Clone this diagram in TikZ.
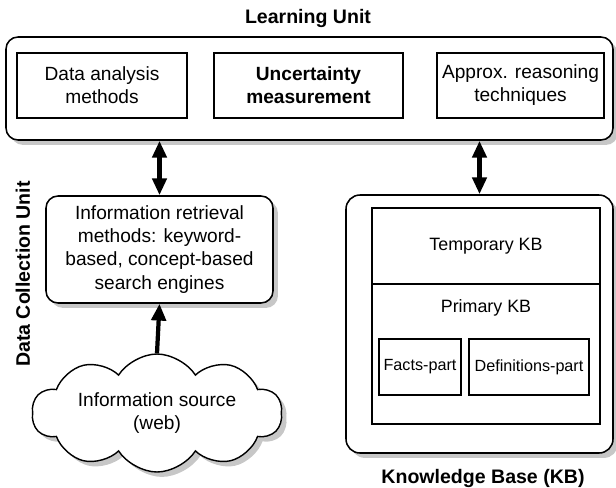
\documentclass[tikz,border=0pt]{standalone}
\usepackage{fontspec}
\setmainfont{Liberation Sans}
\usetikzlibrary{arrows.meta,shapes.symbols,shadows}
\tikzset{unitbox/.style={draw, fill=white, line width=1.1pt, rounded corners=0.3cm, align=center, font=\fontsize{13.6}{16.4}\selectfont, drop shadow={shadow xshift=3.5pt, shadow yshift=-3.5pt, fill=black!22, opacity=1}},
  partbox/.style={draw, line width=1pt, inner sep=0pt, align=center, font=\fontsize{13.6}{16.4}\selectfont},
  kbtext/.style={font=\fontsize{12.7}{15}\selectfont},
  smalltext/.style={font=\fontsize{11.5}{14}\selectfont},
  heading/.style={font=\bfseries\fontsize{13.9}{16.4}\selectfont},
  source/.style={cloud, cloud puffs=10, cloud puff arc=115, cloud ignores aspect, inner sep=0pt, draw, fill=white, line width=1pt, align=center, font=\fontsize{13.6}{16.4}\selectfont, drop shadow={shadow xshift=3.5pt, shadow yshift=-3.5pt, fill=black!22, opacity=1}},
  dblarrow/.style={line width=3pt, {Triangle[width=0.35cm,length=0.42cm]}-{Triangle[width=0.35cm,length=0.42cm]}},
  onearrow/.style={line width=3pt, -{Triangle[width=0.36cm,length=0.42cm]}}}
\begin{document}
\begin{tikzpicture}[x=0.025cm, y=-0.025cm]
      \def\u{0.025cm}
      \useasboundingbox (0,0) rectangle (616,487);
      \node [unitbox, minimum width=607*\u, minimum height=103*\u] (lu) at (309.5,88.5) {};
      \node [heading] (lutitle) at (308,18) {Learning Unit};
      \node [partbox, minimum width=170*\u, minimum height=65*\u] (dam) at (102,85.5) {Data analysis\\methods};
      \node [partbox, font=\bfseries\fontsize{13.6}{16.4}\selectfont, minimum width=189*\u, minimum height=65*\u] (um) at (308.5,85.5) {Uncertainty\\measurement};
      \node [partbox, minimum width=167*\u, minimum height=65*\u] (art) at (520.5,85.5) {Approx. reasoning\\techniques};
      \node [unitbox, minimum width=227*\u, minimum height=107*\u] (irm) at (159.5,249.5) {Information retrieval\\methods: keyword-\\based, concept-based\\search engines};
      \node [heading, rotate=90] (dcu) at (23,274) {Data Collection Unit};
      \node [source, minimum width=250*\u, minimum height=118*\u] (web) at (157,413) {Information source\\(web)};
      \node [unitbox, rounded corners=0.35cm, minimum width=267*\u, minimum height=258*\u] (kb) at (479.5,324) {};
      \node [partbox, kbtext, minimum width=228*\u, minimum height=76*\u] (tkb) at (486,246) {Temporary KB};
      \node [partbox, minimum width=228*\u, minimum height=140*\u] (pkb) at (486,354) {};
      \node [kbtext] (pkbname) at (486,308) {Primary KB};
      \node [partbox, smalltext, minimum width=82*\u, minimum height=56*\u] (fp) at (420,367) {Facts-part};
      \node [partbox, smalltext, minimum width=120*\u, minimum height=56*\u] (dp) at (529,367) {Definitions-part};
      \node [heading] (kbtitle) at (483,478) {Knowledge Base (KB)};
      \draw [dblarrow] (irm.north |- lu.south) -- (irm.north);
      \draw [dblarrow] (kb.north |- lu.south) -- (kb.north);
      \draw [onearrow] (web.north) -- (irm.south);
    \end{tikzpicture}
\end{document}
